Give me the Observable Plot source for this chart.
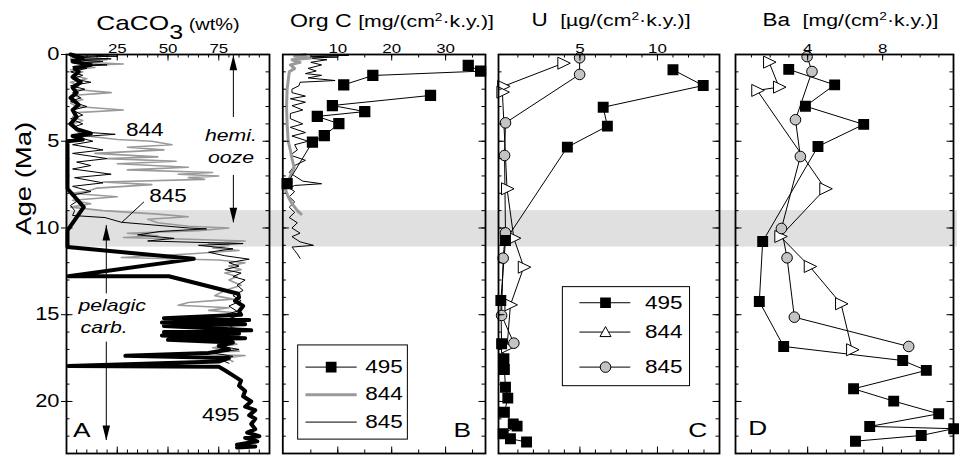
<!DOCTYPE html>
<html>
<head>
<meta charset="utf-8">
<script src="https://cdn.jsdelivr.net/npm/d3@7"></script>
<script src="https://cdn.jsdelivr.net/npm/@observablehq/plot@0.6"></script>
<style>
html,body{margin:0;padding:0;background:#fff;}
#chart{position:relative;width:959px;height:459px;overflow:hidden;background:#fff;}
#chart svg{position:absolute;left:0;top:0;}
</style>
</head>
<body>
<div id="chart"></div>
<script>
// ---------------- DATA ----------------
// Age axis (Ma)
const ageDomain = [0, 23];
const ageMajorTicks = [0, 5, 10, 15, 20];
const ageMinorTicks = d3.range(1, 23);
const bandAges = [[9.0, 11.1]];           // grey shaded interval (Ma)
const seriesNames = ["495", "844", "845"];

// Panel A: CaCO3 (wt%)  [age, value]
const caco3_844 = [[0.0,3],[0.1,12],[0.2,2],[0.3,20],[0.42,5],[0.55,28],[0.65,4],[0.75,14],[0.88,2],[1.0,8],[1.2,3],[1.4,10],[1.6,2],[1.8,6],[2.0,3],[2.2,22],[2.35,4],[2.6,8],[2.8,2],[3.0,5],[3.2,28],[3.35,5],[3.6,3],[3.8,8],[4.0,3],[4.3,4],[4.5,6],[4.7,10],[4.9,25],[5.0,42],[5.2,52],[5.35,30],[5.5,48],[5.7,14],[5.9,45],[6.0,20],[6.15,54],[6.3,25],[6.5,60],[6.65,30],[6.8,72],[6.9,55],[7.0,75],[7.1,60],[7.2,68],[7.35,18],[7.5,42],[7.7,15],[7.9,10],[8.0,2],[8.2,25],[8.4,3],[8.6,12],[8.8,2],[9.0,18],[9.2,45],[9.35,60],[9.5,40],[9.7,45],[9.9,60],[10.0,80],[10.15,65],[10.3,30],[10.45,45],[10.55,28],[10.65,60],[10.75,88],[10.9,70],[11.0,80],[11.15,72],[11.3,85],[11.5,60],[11.7,27],[11.85,75],[12.0,88],[12.2,80],[12.4,86],[12.6,78],[12.8,84],[13.0,80],[13.3,86],[13.6,78],[13.9,73],[14.1,82],[14.3,60],[14.45,55],[14.6,80],[14.75,70],[14.9,84],[15.1,80],[15.3,86],[15.6,80],[15.9,85],[16.2,82],[16.5,80],[16.7,84],[16.9,72],[17.1,85],[17.25,51],[17.35,88],[17.5,78],[17.7,82]];
const caco3_845 = [[0.0,5],[0.1,25],[0.15,3],[0.25,22],[0.3,2],[0.4,18],[0.5,4],[0.6,20],[0.7,3],[0.8,10],[1.0,2],[1.2,8],[1.4,3],[1.6,12],[1.8,2],[2.0,9],[2.2,3],[2.5,7],[2.7,2],[3.0,10],[3.2,3],[3.5,8],[3.7,2],[4.0,8],[4.2,3],[4.45,6],[4.6,24],[4.75,5],[5.0,13],[5.2,3],[5.5,18],[5.7,3],[6.0,20],[6.2,5],[6.4,12],[6.6,3],[6.9,22],[7.1,4],[7.4,18],[7.6,3],[7.9,12],[8.1,3],[8.4,6],[8.7,2],[9.0,4],[9.28,3],[9.4,19],[9.67,27],[10.0,60],[10.05,69],[10.2,46],[10.4,35],[10.6,53],[10.75,40],[10.9,87],[11.0,65],[11.2,82],[11.4,70],[11.6,78],[11.8,90],[12.0,80],[12.2,85],[12.4,78],[12.6,86],[12.8,82],[13.0,88],[13.3,84],[13.6,87],[13.9,82],[14.2,86],[14.5,80],[14.8,84],[15.0,78],[15.3,85],[15.6,80],[15.9,83],[16.2,77],[16.5,80],[16.8,75],[17.0,85],[17.2,72],[17.4,82],[17.6,76],[17.8,80]];
const caco3_495 = [[0.0,2],[0.2,8],[0.4,3],[0.6,12],[0.8,4],[1.0,6],[1.3,3],[1.6,7],[1.9,3],[2.2,5],[2.5,2],[2.9,6],[3.2,3],[3.6,5],[4.0,2],[4.3,5],[4.55,12],[4.7,3],[4.9,8],[5.0,0.5],[7.74,0.5],[8.8,8.5],[10.14,0.5],[11.1,0.5],[11.78,62.7],[12.78,0.9],[12.78,50.4],[13.79,84.6],[14.0,85],[14.2,83],[14.5,87],[14.8,85],[15.0,86],[15.2,48],[15.3,90],[15.45,47],[15.55,88],[15.65,48],[15.9,91],[16.0,48],[16.1,85],[16.2,47],[16.35,88],[16.45,50],[16.6,82],[16.8,75],[17.0,80],[17.2,70],[17.37,29],[17.5,80],[17.7,75],[17.95,1],[18.0,75],[18.2,78],[18.5,82],[18.8,86],[19.1,85],[19.4,88],[19.7,87],[20.0,91],[20.3,88],[20.5,93],[20.8,90],[21.0,93],[21.3,91],[21.6,93],[21.8,89],[22.0,95],[22.1,88],[22.3,94],[22.5,84],[22.6,93],[22.65,84]];

// Panel B: Org C [mg/(cm2 k.y.)]
const orgc_495 = [[0.63,34.2],[0.96,36.5],[1.21,16.5],[1.75,11.1],[2.36,27.2],[2.94,9.0],[3.29,15.0],[3.57,6.2],[3.99,10.2],[4.67,7.5],[5.05,5.3],[7.45,0.6]];
const orgc_495_segment = [0,0,0,0,1,1,1,1,1,1,1,1];
const orgc_844 = [[0.0,4],[0.1,2],[0.2,5],[0.3,1.5],[0.45,3],[0.6,1.2],[0.8,2],[1.0,1],[1.5,0.8],[2.0,0.6],[3.0,0.5],[4.0,0.6],[5.0,0.8],[5.5,1.2],[6.0,1.5],[6.5,1.9],[7.0,1.2],[7.5,0.6],[7.8,0.3],[8.2,0.8],[8.6,1.5],[9.0,2.5],[9.2,3.2]];
const orgc_845 = [[0.0,4],[0.05,12],[0.1,5],[0.15,10],[0.2,4],[0.3,8],[0.45,5],[0.6,7],[0.8,4.5],[0.95,6],[1.1,4],[1.2,7],[1.35,4.5],[1.5,9.5],[1.6,3],[1.8,2.8],[2.0,1.5],[2.2,1.5],[2.4,4],[2.55,1.2],[2.75,4],[2.95,1.5],[3.2,3.5],[3.4,1.2],[3.7,1.2],[4.0,3.5],[4.2,1.2],[4.5,4],[4.7,1.5],[5.0,4.5],[5.2,2],[5.5,2.5],[5.8,1.2],[6.1,4],[6.4,2],[6.8,1],[7.0,2],[7.3,3.5],[7.45,7],[7.55,2],[7.7,1],[7.9,2],[8.2,1],[8.5,2],[8.8,1],[9.1,2],[9.4,1],[9.7,2.5],[10.0,1.5],[10.3,3],[10.5,1.5],[10.8,3],[11.0,5.5],[11.1,1.5],[11.3,2],[11.5,2.5],[11.75,3]];

// Panel C: U [ug/(cm2 k.y.)]
const u_495 = [[0.88,11.0],[1.79,12.95],[3.04,6.5],[4.13,6.77],[5.34,4.19],[10.72,0.2],[14.18,-0.1],[16.67,-0.05],[17.54,0.1],[18.16,0.13],[19.18,0.2],[19.81,0.35],[20.62,0.13],[21.29,0.7],[21.42,0.95],[21.86,0.05],[22.15,0.52],[22.34,1.56]];
const u_844 = [[0.5,3.93],[1.84,0.05],[2.17,0.0],[7.74,0.3],[10.59,0.74],[12.26,1.38],[14.43,0.52],[16.87,0.3]];
const u_845 = [[0.19,4.98],[1.15,4.98],[3.94,0.2],[5.82,0.14],[10.28,0.2],[11.74,0.05],[15.04,-0.05],[16.64,0.74]];

// Panel D: Ba [mg/(cm2 k.y.)]
const ba_495 = [[0.86,2.99],[1.75,5.44],[2.98,3.88],[4.03,6.99],[5.3,4.55],[10.78,1.6],[14.24,1.42],[16.83,2.72],[17.64,9.07],[18.21,10.33],[19.27,6.45],[19.98,8.59],[20.71,10.99],[21.44,7.31],[21.57,11.79],[21.96,10.06],[22.29,6.55]];
const ba_844 = [[0.44,1.94],[1.88,2.47],[2.07,1.31],[7.74,4.94],[10.49,2.54],[12.22,4.11],[14.37,5.78],[17.02,6.37]];
const ba_845 = [[0.12,3.97],[0.98,4.23],[3.76,3.35],[5.88,3.61],[10.03,2.6],[11.72,2.9],[15.14,3.29],[16.83,9.39]];

// Axis ticks per panel
const caco3Labels = [25, 50, 75];
const orgcLabels = [10, 20, 30];
const uLabels = [5, 10];
const baLabels = [4, 8];

// ---------------- LAYOUT ----------------
const W = 959, H = 459, MT = 54, MB = 6;
const FONT = "Liberation Sans, Arial, Helvetica, sans-serif";
const STRETCH = 1.25;   // wide lettering of the original
const GREY = "#9a9a9a", BAND = "#e0e0e0", CIRCLE = "#c4c4c4";

const arrowUp = {draw(c){c.moveTo(0,0);c.lineTo(3.8,15);c.lineTo(-3.8,15);c.closePath();}};
const arrowDown = {draw(c){c.moveTo(0,0);c.lineTo(3.8,-15);c.lineTo(-3.8,-15);c.closePath();}};
const triRight = {draw(c){c.moveTo(-5.5,-6);c.lineTo(7,0);c.lineTo(-5.5,6);c.closePath();}};
const triUp = {draw(c){c.moveTo(0,-5.5);c.lineTo(5.5,4.5);c.lineTo(-5.5,4.5);c.closePath();}};

const A = d => d[1], G = d => d[0];   // value, age accessors

function panel(cfg) {
  const innerW = W - cfg.left - cfg.right, innerH = H - MT - MB;
  const yMaj = [5, 10, 15, 20];
  const marks = [
    ...cfg.marks,
    Plot.tickX(cfg.xMinor, {x: d => d, insetBottom: innerH - 3.5, strokeWidth: 1}),
    Plot.tickX(cfg.xLabels, {x: d => d, insetBottom: innerH - 6.5, strokeWidth: 1}),
    Plot.tickX(cfg.xMinor, {x: d => d, insetTop: innerH - 3.5, strokeWidth: 1}),
    Plot.tickX(cfg.xLabels, {x: d => d, insetTop: innerH - 6.5, strokeWidth: 1}),
    Plot.tickY(ageMinorTicks, {y: d => d, insetRight: innerW - 3.5, strokeWidth: 1}),
    Plot.tickY(yMaj, {y: d => d, insetRight: innerW - 6.5, strokeWidth: 1}),
    Plot.tickY(ageMinorTicks, {y: d => d, insetLeft: innerW - 3.5, strokeWidth: 1}),
    Plot.tickY(yMaj, {y: d => d, insetLeft: innerW - 6.5, strokeWidth: 1}),
    Plot.text(cfg.xLabels, {x: d => d, frameAnchor: "top", dy: -1.5, lineAnchor: "bottom", fontSize: 13.5}),
    Plot.frame({strokeWidth: 1.8})
  ];
  return Plot.plot({
    width: W, height: H, marginTop: MT, marginBottom: MB,
    marginLeft: cfg.left, marginRight: cfg.right,
    x: {domain: cfg.xDomain, axis: null},
    y: {domain: ageDomain, reverse: true, axis: null},
    style: {background: "none", fontFamily: FONT, overflow: "visible", color: "black"},
    marks
  });
}

// background band (spans all panels)
const bandPlot = Plot.plot({
  width: W, height: H, marginTop: MT, marginBottom: MB, marginLeft: 65, marginRight: 2,
  x: {domain: [0, 1], axis: null},
  y: {domain: ageDomain, reverse: true, axis: null},
  style: {background: "none"},
  marks: [Plot.rect(bandAges, {y1: d => d[0], y2: d => d[1], fill: BAND})]
});

// Panel A
const pA = panel({
  left: 66, right: 690, xDomain: [0, 100],
  xMinor: d3.range(5, 100, 5), xLabels: caco3Labels,
  marks: [
    Plot.line(caco3_844, {x: A, y: G, stroke: GREY, strokeWidth: 1.6}),
    Plot.line(caco3_845, {x: A, y: G, stroke: "black", strokeWidth: 1}),
    Plot.line(caco3_495, {x: A, y: G, stroke: "black", strokeWidth: 4, strokeLinejoin: "round"}),
    // y-axis (left)
    Plot.tickY(ageMajorTicks, {y: d => d, insetLeft: -5, insetRight: 202, strokeWidth: 1}),
    Plot.text(ageMajorTicks, {y: d => d, frameAnchor: "left", dx: -7, textAnchor: "end", fontSize: 17.5}),
    Plot.text(["Age (Ma)"], {y: [10.4], frameAnchor: "left", dx: -43, rotate: -90, fontSize: 22}),
    // annotations
    Plot.text(["844"], {x: [38.5], y: [4.38], fontSize: 18}),
    Plot.text(["845"], {x: [50], y: [8.18], fontSize: 18}),
    Plot.line([[8.51, 38], [9.67, 27.3]], {x: A, y: G, stroke: "black", strokeWidth: 1}),
    Plot.text(["495"], {x: [76], y: [20.8], fontSize: 18}),
    Plot.text(["A"], {x: [7.5], y: [21.67], fontSize: 21}),
    Plot.text(["hemi.", "ooze"], {x: [81, 81], y: [4.67, 5.92], fontSize: 17, fontStyle: "italic"}),
    Plot.text(["pelagic", "carb."], {x: [5.9, 6.9], y: [14.47, 15.72], fontSize: 17, fontStyle: "italic", textAnchor: "start"}),
    Plot.ruleX([82.2, 82.2], {x: d => d, y1: [0.05, 6.97], y2: [3.63, 9.7], strokeWidth: 1}),
    Plot.ruleX([19.6, 19.6], {x: d => d, y1: [9.86, 16.58], y2: [13.8, 22.25], strokeWidth: 1}),
    Plot.dot([[0.05, 82.2], [9.86, 19.6]], {x: A, y: G, symbol: arrowUp, fill: "black", stroke: "none"}),
    Plot.dot([[9.7, 82.2], [22.25, 19.6]], {x: A, y: G, symbol: arrowDown, fill: "black", stroke: "none"})
  ]
});

// Panel B
const legB = {x1: 2.65, x2: 23.0, y1: 16.77, y2: 22.2, rows: [18.02, 19.61, 21.19], l1: 4.1, l2: 13.6, sym: 8.77, tx: 15.1};
const pB = panel({
  left: 282.3, right: 474, xDomain: [-0.2, 37.4],
  xMinor: d3.range(5, 37, 5), xLabels: orgcLabels,
  marks: [
    Plot.line(orgc_845, {x: A, y: G, stroke: "black", strokeWidth: 1}),
    Plot.line(orgc_844, {x: A, y: G, stroke: GREY, strokeWidth: 3}),
    Plot.line(orgc_495, {x: A, y: G, z: (d, i) => orgc_495_segment[i], stroke: "black", strokeWidth: 1}),
    Plot.dot(orgc_495, {x: A, y: G, symbol: "square", r: 5.5, fill: "black", stroke: "black"}),
    Plot.text(["B"], {x: [33.1], y: [21.67], fontSize: 21}),
    // legend
    Plot.rect([legB], {x1: "x1", x2: "x2", y1: "y1", y2: "y2", fill: "white", stroke: "black", strokeWidth: 1}),
    Plot.ruleY([legB.rows[0]], {y: d => d, x1: legB.l1, x2: legB.l2, stroke: "black", strokeWidth: 1}),
    Plot.ruleY([legB.rows[1]], {y: d => d, x1: legB.l1, x2: legB.l2, stroke: GREY, strokeWidth: 3}),
    Plot.ruleY([legB.rows[2]], {y: d => d, x1: legB.l1, x2: legB.l2, stroke: "black", strokeWidth: 1}),
    Plot.dot([legB.rows[0]], {x: legB.sym, y: d => d, symbol: "square", r: 5.2, fill: "black", stroke: "black"}),
    Plot.text(seriesNames, {x: legB.tx, y: legB.rows, textAnchor: "start", fontSize: 18})
  ]
});

// Panel C
const legC = {x1: 3.9, x2: 12.1, y1: 13.41, y2: 19.12, rows: [14.31, 16.0, 18.02], l1: 5.0, l2: 8.28, sym: 6.65, tx: 9.19};
const pC = panel({
  left: 498, right: 240, xDomain: [-0.25, 14.0],
  xMinor: d3.range(1, 14, 1), xLabels: uLabels,
  marks: [
    Plot.line(u_844, {x: A, y: G, stroke: "black", strokeWidth: 1}),
    Plot.line(u_845, {x: A, y: G, stroke: "black", strokeWidth: 1}),
    Plot.line(u_495, {x: A, y: G, stroke: "black", strokeWidth: 1}),
    Plot.dot(u_844, {x: A, y: G, symbol: triRight, fill: "white", stroke: "black", strokeWidth: 1}),
    Plot.dot(u_845, {x: A, y: G, symbol: "circle", r: 5.3, fill: CIRCLE, stroke: "black", strokeWidth: 1}),
    Plot.dot(u_495, {x: A, y: G, symbol: "square", r: 5.3, fill: "black", stroke: "black"}),
    Plot.text(["C"], {x: [12.6], y: [21.67], fontSize: 21}),
    Plot.rect([legC], {x1: "x1", x2: "x2", y1: "y1", y2: "y2", fill: "white", stroke: "black", strokeWidth: 1}),
    Plot.ruleY(legC.rows, {y: d => d, x1: legC.l1, x2: legC.l2, stroke: "black", strokeWidth: 1}),
    Plot.dot([legC.rows[0]], {x: legC.sym, y: d => d, symbol: "square", r: 5.2, fill: "black", stroke: "black"}),
    Plot.dot([legC.rows[1]], {x: legC.sym, y: d => d, symbol: triUp, fill: "white", stroke: "black", strokeWidth: 1}),
    Plot.dot([legC.rows[2]], {x: legC.sym, y: d => d, symbol: "circle", r: 5.3, fill: CIRCLE, stroke: "black", strokeWidth: 1}),
    Plot.text(seriesNames, {x: legC.tx, y: legC.rows, textAnchor: "start", fontSize: 18})
  ]
});

// Panel D
const pD = panel({
  left: 735, right: 6, xDomain: [0.15, 11.78],
  xMinor: d3.range(1, 12, 1), xLabels: baLabels,
  marks: [
    Plot.line(ba_844, {x: A, y: G, stroke: "black", strokeWidth: 1}),
    Plot.line(ba_845, {x: A, y: G, stroke: "black", strokeWidth: 1}),
    Plot.line(ba_495, {x: A, y: G, stroke: "black", strokeWidth: 1}),
    Plot.dot(ba_844, {x: A, y: G, symbol: triRight, fill: "white", stroke: "black", strokeWidth: 1}),
    Plot.dot(ba_845, {x: A, y: G, symbol: "circle", r: 5.3, fill: CIRCLE, stroke: "black", strokeWidth: 1}),
    Plot.dot(ba_495, {x: A, y: G, symbol: "square", r: 5.3, fill: "black", stroke: "black"}),
    Plot.text(["D"], {x: [1.33], y: [21.57], fontSize: 21})
  ]
});

// stretch lettering horizontally like the original
function stretchText(svg) {
  for (const t of svg.querySelectorAll("text")) {
    let tr = t.getAttribute("transform") || "";
    const x = t.getAttribute("x");
    if (x !== null && +x !== 0) { tr += ` translate(${x},0)`; t.removeAttribute("x"); }
    t.setAttribute("transform", `${tr} scale(${STRETCH},1)`);
  }
}

const chart = document.getElementById("chart");
for (const p of [bandPlot, pA, pB, pC, pD]) { stretchText(p); chart.appendChild(p); }

// Titles (with sub/superscripts)
const ov = d3.create("svg").attr("width", W).attr("height", H).attr("font-family", FONT).attr("fill", "black");
function title(cx, y, parts) {
  const g = ov.append("g").attr("transform", `translate(${cx},0) scale(${STRETCH},1)`);
  const t = g.append("text").attr("y", y).attr("text-anchor", "middle");
  for (const p of parts) t.append("tspan").attr("font-size", p.s).attr("dy", p.dy || 0).text(p.t);
}
title(168, 30, [{t: "CaCO", s: 21}, {t: "3", s: 20, dy: 9.5}, {t: " (wt%)", s: 16, dy: -9.5}]);
title(392, 27.5, [{t: "Org C ", s: 18.5}, {t: "[mg/(cm", s: 17}, {t: "2", s: 11, dy: -6}, {t: "\u00b7k.y.)]", s: 17, dy: 6}]);
title(611, 26, [{t: "U\u00a0 ", s: 18}, {t: "[\u00b5g/(cm", s: 17}, {t: "2", s: 11, dy: -6}, {t: "\u00b7k.y.)]", s: 17, dy: 6}]);
title(850.5, 26, [{t: "Ba\u00a0 ", s: 18}, {t: "[mg/(cm", s: 17}, {t: "2", s: 11, dy: -6}, {t: "\u00b7k.y.)]", s: 17, dy: 6}]);
chart.appendChild(ov.node());
</script>
</body>
</html>
